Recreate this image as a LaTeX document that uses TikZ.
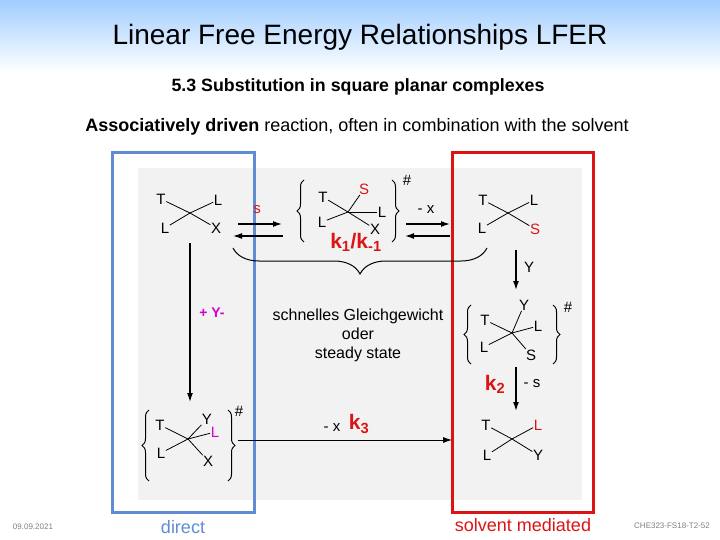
\documentclass[tikz,border=0pt]{standalone}
\usepackage{fontspec}
\setmainfont{Liberation Sans}
\usetikzlibrary{decorations.pathreplacing, arrows.meta}
\definecolor{dirblue}{RGB}{95,140,210}
\definecolor{solvred}{RGB}{220,20,20}
\definecolor{ymag}{RGB}{210,0,210}
\definecolor{skyblue}{RGB}{160,205,255}
\tikzset{
  lig/.style={inner sep=0.5pt, font=\fontsize{15}{15}\selectfont},
  bond/.style={line width=0.8pt},
  rxn/.style={-{Latex[length=9pt, width=6pt]}, line width=1.3pt},
  rate/.style={text=solvred, font=\fontsize{21}{21}\selectfont\bfseries},
  brk/.style={line width=1pt, decorate, decoration={brace, amplitude=7pt}}
}
\begin{document}
\begin{tikzpicture}[x=1pt, y=-1pt]
        \useasboundingbox (0,0) rectangle (720,540);
        \shade[top color=skyblue, bottom color=white] (0,0) rectangle (720,72);
        \fill[gray!10] (138,168) rectangle (582,500);

        \node (title) at (360,37) {\fontsize{28}{28}\selectfont Linear Free Energy Relationships LFER};
        \node (sub) at (358,87) {\fontsize{17.8}{18}\selectfont\bfseries 5.3 Substitution in square planar complexes};
        \node (assoc) at (357,127) {\fontsize{18}{18}\selectfont\textbf{Associatively driven} reaction, often in combination with the solvent};

        % frames
        \draw[dirblue, line width=3pt] (112,153) rectangle (254,512);
        \draw[solvred, line width=3pt] (452,153) rectangle (593,512);
        \node[text=dirblue] (direct) at (183,527) {\fontsize{18}{18}\selectfont direct};
        \node[text=solvred] (solvmed) at (523,525) {\fontsize{18}{18}\selectfont solvent mediated};
        \node[text=gray] (date) at (33,527) {\fontsize{8}{8}\selectfont 09.09.2021};
        \node[text=gray] (slide) at (672,526) {\fontsize{8}{8}\selectfont CHE323-FS18-T2-52};

        % starting complex
        \coordinate (c1) at (190,213);
        \node[lig] (t1) at (161,199) {T};
        \node[lig] (la1) at (218,200) {L};
        \node[lig] (lb1) at (165,228) {L};
        \node[lig] (x1) at (216,228) {X};
        \foreach \n in {t1,la1,lb1,x1} \draw[bond] (c1) -- (\n);

        % solvent transition state
        \coordinate (c2) at (348,212);
        \node[lig] (t2) at (323,197) {T};
        \node[lig, text=solvred] (s2) at (364,189) {S};
        \node[lig] (la2) at (382,212) {L};
        \node[lig] (lb2) at (322,222) {L};
        \node[lig] (x2) at (375,229) {X};
        \foreach \n in {t2,s2,la2,lb2,x2} \draw[bond] (c2) -- (\n);
        \coordinate (lb2a) at (304,242); \coordinate (lb2b) at (304,180);
        \coordinate (rb2a) at (392,180); \coordinate (rb2b) at (392,242);
        \draw[brk] (lb2a) -- (lb2b);
        \draw[brk] (rb2a) -- (rb2b);
        \node[lig] (h2) at (407,180) {\#};

        % solvent complex
        \coordinate (c3) at (508,213);
        \node[lig] (t3) at (483,200) {T};
        \node[lig] (la3) at (534,200) {L};
        \node[lig] (lb3) at (482,228) {L};
        \node[lig, text=solvred] (s3) at (535,229) {S};
        \foreach \n in {t3,la3,lb3,s3} \draw[bond] (c3) -- (\n);

        % equilibria
        \coordinate (e1a) at (238,224); \coordinate (e1b) at (282,224);
        \coordinate (e1c) at (283,236); \coordinate (e1d) at (233,236);
        \draw[rxn] (e1a) -- (e1b);
        \draw[rxn] (e1c) -- (e1d);
        \node[lig, text=solvred] (sol) at (257,210) {s};
        \coordinate (e2a) at (406,224); \coordinate (e2b) at (450,224);
        \coordinate (e2c) at (450,236); \coordinate (e2d) at (405,236);
        \draw[rxn] (e2a) -- (e2b);
        \draw[rxn] (e2c) -- (e2d);
        \node[lig] (mx1) at (426,210) {- x};
        \node[rate] (k1) at (356,242) {k\textsubscript{1}/k\textsubscript{-1}};
        \coordinate (br1) at (487,248); \coordinate (br2) at (233,248);
        \draw[line width=1pt, decorate, decoration={brace, amplitude=26pt}] (br1) -- (br2);

        % direct path
        \coordinate (d1) at (190,243); \coordinate (d2) at (190,402);
        \draw[rxn] (d1) -- (d2);
        \node[text=ymag] (addy) at (212,313) {\fontsize{14}{14}\selectfont\bfseries + Y-};

        \node[align=center, font=\fontsize{16}{19}\selectfont] (fast) at (358,335) {schnelles Gleichgewicht\\ oder\\ steady state};

        % direct transition state
        \coordinate (c4) at (188,439);
        \node[lig] (t4) at (160,425) {T};
        \node[lig] (y4) at (207,419) {Y};
        \node[lig, text=ymag] (la4) at (215,432) {L};
        \node[lig] (lb4) at (161,453) {L};
        \node[lig] (x4) at (208,461) {X};
        \foreach \n in {t4,y4,la4,lb4,x4} \draw[bond] (c4) -- (\n);
        \coordinate (lb4a) at (149,481); \coordinate (lb4b) at (149,410);
        \coordinate (rb4a) at (228,410); \coordinate (rb4b) at (228,481);
        \draw[brk] (lb4a) -- (lb4b);
        \draw[brk] (rb4a) -- (rb4b);
        \node[lig] (h4) at (239,411) {\#};

        % solvent path
        \coordinate (y1) at (516,250); \coordinate (y2) at (516,290);
        \draw[rxn] (y1) -- (y2);
        \node[lig] (addy2) at (529,267) {Y};
        \coordinate (c5) at (512,333);
        \node[lig] (y5) at (524,305) {Y};
        \node[lig] (t5) at (485,320) {T};
        \node[lig] (la5) at (538,326) {L};
        \node[lig] (lb5) at (484,347) {L};
        \node[lig] (s5) at (531,355) {S};
        \foreach \n in {y5,t5,la5,lb5,s5} \draw[bond] (c5) -- (\n);
        \coordinate (lb5a) at (471,364); \coordinate (lb5b) at (471,305);
        \coordinate (rb5a) at (553,305); \coordinate (rb5b) at (553,364);
        \draw[brk] (lb5a) -- (lb5b);
        \draw[brk] (rb5a) -- (rb5b);
        \node[lig] (h5) at (568,307) {\#};
        \coordinate (k2a) at (516,367); \coordinate (k2b) at (516,411);
        \draw[rxn] (k2a) -- (k2b);
        \node[rate] (k2) at (495,384) {k\textsubscript{2}};
        \node[lig] (ms) at (532,384) {- s};

        % product
        \coordinate (c6) at (512,439);
        \node[lig] (t6) at (486,425) {T};
        \node[lig, text=solvred] (la6) at (538,425) {L};
        \node[lig] (lb6) at (487,455) {L};
        \node[lig] (y6) at (538,455) {Y};
        \foreach \n in {t6,la6,lb6,y6} \draw[bond] (c6) -- (\n);

        % direct displacement
        \coordinate (k3a) at (238,440); \coordinate (k3b) at (452,440);
        \draw[-{Latex[length=9pt, width=6pt]}, line width=0.8pt] (k3a) -- (k3b);
        \node[lig] (mx2) at (332,428) {- x};
        \node[rate] (k3) at (359,424) {k\textsubscript{3}};
    \end{tikzpicture}
\end{document}
